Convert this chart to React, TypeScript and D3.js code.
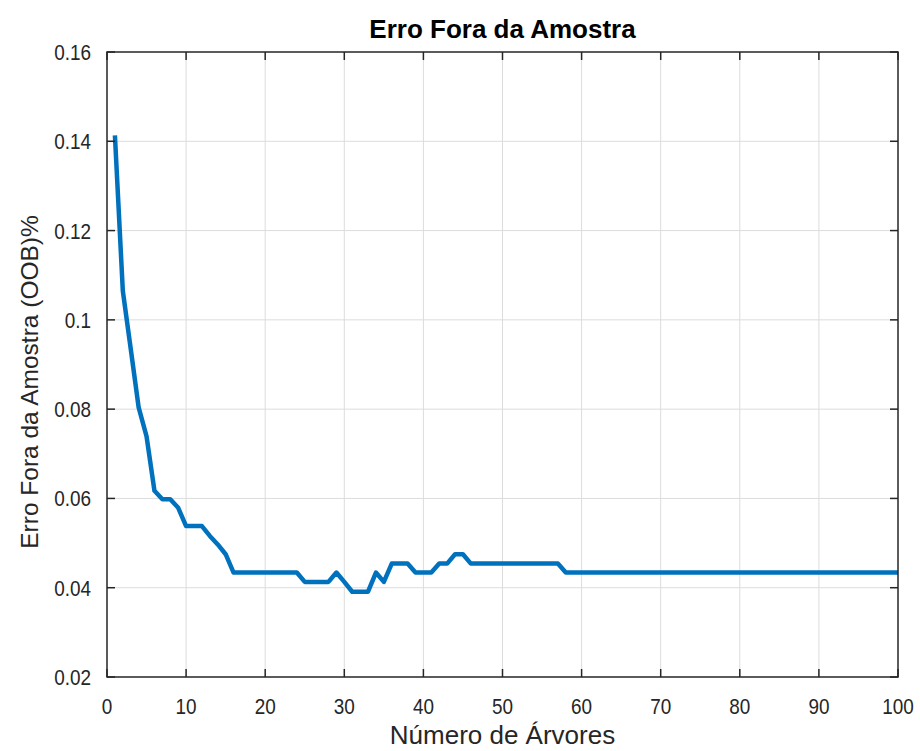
import React from "react";
import * as d3 from "d3";

const title = "Erro Fora da Amostra";
const xLabel = "Número de Árvores";
const yLabel = "Erro Fora da Amostra (OOB)%";

const oobError: number[] = [
  0.1413, 0.1065, 0.0935, 0.0804, 0.0739, 0.0617, 0.0598, 0.0598, 0.0579, 0.0538,
  0.0538, 0.0538, 0.0516, 0.0497, 0.0475, 0.0434, 0.0434, 0.0434, 0.0434, 0.0434,
  0.0434, 0.0434, 0.0434, 0.0434, 0.0413, 0.0413, 0.0413, 0.0413, 0.0434, 0.0413,
  0.0391, 0.0391, 0.0391, 0.0434, 0.0413, 0.0454, 0.0454, 0.0454, 0.0434, 0.0434,
  0.0434, 0.0454, 0.0454, 0.0475, 0.0475, 0.0454, 0.0454, 0.0454, 0.0454, 0.0454,
  0.0454, 0.0454, 0.0454, 0.0454, 0.0454, 0.0454, 0.0454, 0.0434, 0.0434, 0.0434,
  0.0434, 0.0434, 0.0434, 0.0434, 0.0434, 0.0434, 0.0434, 0.0434, 0.0434, 0.0434,
  0.0434, 0.0434, 0.0434, 0.0434, 0.0434, 0.0434, 0.0434, 0.0434, 0.0434, 0.0434,
  0.0434, 0.0434, 0.0434, 0.0434, 0.0434, 0.0434, 0.0434, 0.0434, 0.0434, 0.0434,
  0.0434, 0.0434, 0.0434, 0.0434, 0.0434, 0.0434, 0.0434, 0.0434, 0.0434, 0.0434,
];

const xTicks = [0, 10, 20, 30, 40, 50, 60, 70, 80, 90, 100];
const yTicks = [0.02, 0.04, 0.06, 0.08, 0.1, 0.12, 0.14, 0.16];
const yTickLabels = ["0.02", "0.04", "0.06", "0.08", "0.1", "0.12", "0.14", "0.16"];

const W = 920;
const H = 751;
const left = 107;
const right = 898;
const top = 52;
const bottom = 677;
const font = "'Liberation Sans', Arial, Helvetica, sans-serif";
const axisColor = "#262626";
const gridColor = "#dcdcdc";

export default function App() {
  const x = d3.scaleLinear().domain([0, 100]).range([left, right]);
  const y = d3.scaleLinear().domain([0.02, 0.16]).range([bottom, top]);
  const line = d3
    .line<number>()
    .x((_, i) => x(i + 1))
    .y((d) => y(d));
  const tickLen = 8;

  return (
    <svg
      width={W}
      height={H}
      style={{ position: "absolute", left: 0, top: 0, background: "#fff" }}
      fontFamily={font}
    >
      <rect x={0} y={0} width={W} height={H} fill="#fff" />
      {xTicks.slice(1, -1).map((t) => (
        <line key={"gx" + t} x1={x(t)} x2={x(t)} y1={top} y2={bottom} stroke={gridColor} strokeWidth={1} />
      ))}
      {yTicks.slice(1, -1).map((t) => (
        <line key={"gy" + t} x1={left} x2={right} y1={y(t)} y2={y(t)} stroke={gridColor} strokeWidth={1} />
      ))}
      <path
        d={line(oobError) || ""}
        fill="none"
        stroke="#0072BD"
        strokeWidth={4.5}
        strokeLinejoin="round"
        strokeLinecap="butt"
      />
      {xTicks.map((t) => (
        <g key={"tx" + t}>
          <line x1={x(t)} x2={x(t)} y1={bottom} y2={bottom - tickLen} stroke={axisColor} strokeWidth={1.5} />
          <line x1={x(t)} x2={x(t)} y1={top} y2={top + tickLen} stroke={axisColor} strokeWidth={1.5} />
          <text
            transform={`translate(${x(t)}, 714) scale(0.86, 1)`}
            textAnchor="middle"
            fontSize={22}
            fill={axisColor}
          >
            {t}
          </text>
        </g>
      ))}
      {yTicks.map((t, i) => (
        <g key={"ty" + t}>
          <line x1={left} x2={left + tickLen} y1={y(t)} y2={y(t)} stroke={axisColor} strokeWidth={1.5} />
          <line x1={right} x2={right - tickLen} y1={y(t)} y2={y(t)} stroke={axisColor} strokeWidth={1.5} />
          <text
            transform={`translate(91, ${y(t) + 8}) scale(0.86, 1)`}
            textAnchor="end"
            fontSize={22}
            fill={axisColor}
          >
            {yTickLabels[i]}
          </text>
        </g>
      ))}
      <rect x={left} y={top} width={right - left} height={bottom - top} fill="none" stroke={axisColor} strokeWidth={1.5} />
      <text x={(left + right) / 2} y={38} textAnchor="middle" fontSize={26} fontWeight="bold" fill="#000">
        {title}
      </text>
      <text x={(left + right) / 2} y={744} textAnchor="middle" fontSize={26} fill={axisColor}>
        {xLabel}
      </text>
      <text
        transform={`translate(38, 382) rotate(-90)`}
        textAnchor="middle"
        fontSize={24.5}
        fill={axisColor}
      >
        {yLabel}
      </text>
    </svg>
  );
}
